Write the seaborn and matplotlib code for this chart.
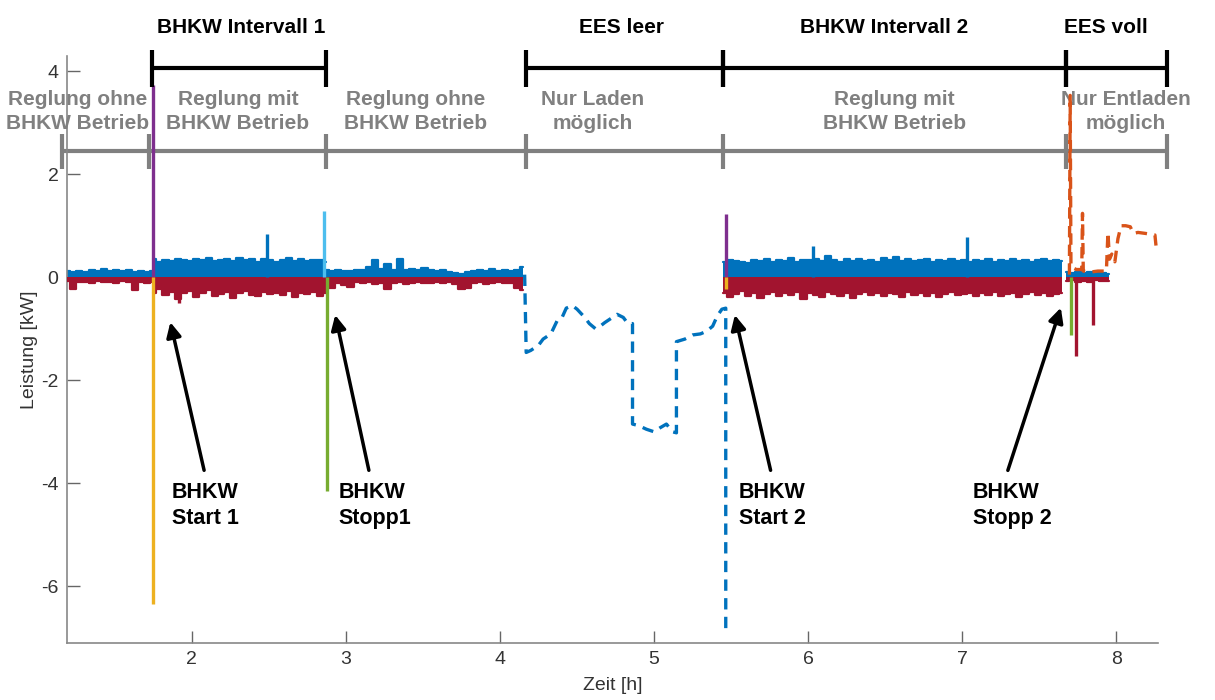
import numpy as np
import pandas as pd
import matplotlib
matplotlib.use("Agg")
import matplotlib.pyplot as plt
import seaborn as sns

# Messabschnitte mit Rauschsignal: Startzeit [h], Schrittweite 0.04 h
seg_start = [1.19, 1.75, 2.87, 5.45, 7.67]
seg_step = 0.04

# obere Huellkurve (blau) je Abschnitt [kW]
blue_a = [0.12, 0.10, 0.13, 0.11, 0.14, 0.12, 0.16, 0.13, 0.15, 0.12, 0.14, 0.11, 0.12, 0.10, 0.13]
blue_b = [0.36, 0.30, 0.34, 0.32, 0.36, 0.33, 0.31, 0.35, 0.33, 0.37, 0.32, 0.34, 0.36, 0.31, 0.38,
          0.33, 0.35, 0.30, 0.36, 0.33, 0.29, 0.34, 0.37, 0.32, 0.35, 0.31, 0.34, 0.33, 0.30]
blue_c = [0.15, 0.12, 0.14, 0.13, 0.12, 0.15, 0.14, 0.20, 0.33, 0.16, 0.25, 0.15, 0.35, 0.14, 0.16,
          0.15, 0.18, 0.14, 0.13, 0.15, 0.11, 0.08, 0.07, 0.10, 0.12, 0.14, 0.13, 0.16, 0.12, 0.14,
          0.13, 0.15, 0.20]
blue_d = [0.30, 0.34, 0.32, 0.30, 0.28, 0.33, 0.31, 0.35, 0.30, 0.33, 0.32, 0.38, 0.30, 0.34, 0.33,
          0.36, 0.31, 0.42, 0.33, 0.30, 0.36, 0.32, 0.35, 0.31, 0.34, 0.30, 0.37, 0.33, 0.40, 0.32,
          0.35, 0.31, 0.33, 0.36, 0.30, 0.34, 0.32, 0.35, 0.31, 0.33, 0.30, 0.34, 0.32, 0.36, 0.30,
          0.33, 0.31, 0.35, 0.32, 0.34, 0.30, 0.33, 0.36, 0.31, 0.34, 0.32]
blue_e = [0.10, 0.08, 0.11, 0.09, 0.10, 0.08, 0.09, 0.07]

# untere Huellkurve (rot) je Abschnitt [kW]
red_a = [-0.08, -0.22, -0.10, -0.09, -0.12, -0.08, -0.10, -0.09, -0.11, -0.08, -0.10, -0.24, -0.09, -0.12, -0.10]
red_b = [-0.30, -0.22, -0.35, -0.28, -0.42, -0.30, -0.27, -0.38, -0.31, -0.25, -0.36, -0.33, -0.29, -0.40, -0.30,
         -0.26, -0.34, -0.37, -0.28, -0.32, -0.30, -0.35, -0.27, -0.38, -0.30, -0.33, -0.28, -0.36, -0.30]
red_c = [-0.10, -0.20, -0.12, -0.15, -0.18, -0.10, -0.12, -0.10, -0.13, -0.11, -0.22, -0.12, -0.10, -0.13, -0.11,
         -0.10, -0.12, -0.11, -0.10, -0.12, -0.10, -0.13, -0.22, -0.20, -0.12, -0.10, -0.14, -0.11, -0.10, -0.12,
         -0.11, -0.20, -0.25]
red_d = [-0.30, -0.38, -0.32, -0.27, -0.36, -0.30, -0.40, -0.33, -0.29, -0.37, -0.31, -0.35, -0.28, -0.42, -0.30,
         -0.34, -0.38, -0.29, -0.33, -0.36, -0.30, -0.40, -0.32, -0.28, -0.35, -0.31, -0.37, -0.30, -0.33, -0.39,
         -0.29, -0.34, -0.31, -0.36, -0.30, -0.38, -0.32, -0.28, -0.35, -0.33, -0.30, -0.37, -0.31, -0.34, -0.29,
         -0.36, -0.32, -0.30, -0.38, -0.33, -0.29, -0.35, -0.31, -0.37, -0.33, -0.30]
red_e = [-0.08, -0.06, -0.09, -0.07, -0.10, -0.06, -0.08, -0.07]

# Einzelspitzen (Zeit [h], Leistung [kW])
spike_blue_t = [2.49, 6.03, 7.03]
spike_blue_p = [0.83, 0.60, 0.78]
spike_red_t = [1.92, 7.74, 7.85]
spike_red_p = [-0.50, -1.52, -0.93]
spike_purple_t = [1.75, 5.465]
spike_purple_p = [3.73, 1.22]
spike_yellow_t = [1.75, 5.465]
spike_yellow_p = [-6.35, -0.22]
spike_cyan_t = [2.86]
spike_cyan_p = [1.28]
spike_green_t = [2.875, 7.705]
spike_green_p = [-4.14, -1.13]

# EES leer (gestrichelt blau)
ees_t = [4.16, 4.17, 4.20, 4.25, 4.28, 4.33, 4.37, 4.40, 4.43, 4.47, 4.50, 4.55, 4.58, 4.62, 4.65, 4.68,
         4.72, 4.76, 4.80, 4.83, 4.86, 4.86, 4.90, 4.95, 5.00, 5.04, 5.08, 5.12, 5.145, 5.145, 5.20, 5.25,
         5.30, 5.34, 5.38, 5.41, 5.44, 5.465, 5.465]
ees_p = [0.05, -1.46, -1.42, -1.32, -1.20, -1.10, -0.85, -0.80, -0.60, -0.55, -0.62, -0.78, -0.90, -1.00, -0.95, -0.88,
         -0.80, -0.72, -0.78, -0.90, -0.90, -2.85, -2.88, -2.95, -3.00, -2.92, -2.85, -3.00, -3.02, -1.25, -1.20, -1.12,
         -1.10, -1.05, -0.95, -0.75, -0.62, -0.60, -6.90]

# EES voll (gestrichelt orange)
evoll_t = [7.695, 7.700, 7.705, 7.74, 7.775, 7.78, 7.785, 7.83, 7.88, 7.935, 7.945, 7.955, 7.97, 7.99, 8.01,
           8.03, 8.06, 8.09, 8.11, 8.14, 8.19, 8.25, 8.26]
evoll_p = [0.05, 3.53, 0.20, 0.15, 0.15, 1.24, 0.12, 0.10, 0.12, 0.12, 0.87, 0.35, 0.45, 0.30, 0.75,
           1.00, 1.00, 0.98, 0.85, 0.87, 0.85, 0.82, 0.52]

# Kopfzeilen
top_labels = ["BHKW Intervall 1", "EES leer", "BHKW Intervall 2", "EES voll"]
top_x = [2.32, 4.79, 6.49, 7.93]
top_bounds = [(1.74, 2.87), (4.17, 5.45), (5.45, 7.67), (7.67, 8.33)]
mid_labels = ["Reglung ohne\nBHKW Betrieb", "Reglung mit\nBHKW Betrieb", "Reglung ohne\nBHKW Betrieb",
              "Nur Laden\nmöglich", "Reglung mit\nBHKW Betrieb", "Nur Entladen\nmöglich"]
mid_x = [1.26, 2.30, 3.45, 4.60, 6.56, 8.06]
mid_bounds = [1.155, 1.72, 2.87, 4.17, 5.45, 7.67, 8.33]

# Pfeilbeschriftungen: Text, Textposition, Pfeilende, Pfeilspitze
arrow_labels = ["BHKW\nStart 1", "BHKW\nStopp1", "BHKW\nStart 2", "BHKW\nStopp 2"]
arrow_text_x = [1.87, 2.95, 5.55, 7.07]
arrow_tail = [(2.084, -3.80), (3.153, -3.80), (5.76, -3.80), (7.29, -3.80)]
arrow_head = [(1.857, -0.82), (2.927, -0.68), (5.52, -0.68), (7.645, -0.54)]

BLUE = "#0072BD"
RED = "#A2142F"
ORANGE = "#D95319"
YELLOW = "#EDB120"
PURPLE = "#7E2F8E"
GREEN = "#77AC30"
CYAN = "#4DBEEE"
GRAY = "#808080"

sns.set_style("white")
plt.rcParams['font.family'] = ['Liberation Sans', 'DejaVu Sans']
plt.rcParams['axes.unicode_minus'] = False

fig = plt.figure(figsize=(12.15, 7.0), dpi=100)
ax = fig.add_axes([0.0551, 0.0814, 0.898, 0.839])

# Rauschsignale je Abschnitt
blue_segs = [blue_a, blue_b, blue_c, blue_d, blue_e]
red_segs = [red_a, red_b, red_c, red_d, red_e]
for i in range(len(seg_start)):
    t = seg_start[i] + seg_step * np.arange(len(blue_segs[i]))
    df = pd.DataFrame({"t": t, "blau": blue_segs[i], "rot": red_segs[i]})
    ax.fill_between(df["t"], 0, df["blau"], step="mid", color=BLUE, lw=0, zorder=2)
    sns.lineplot(data=df, x="t", y="blau", ax=ax, color=BLUE, lw=1.6,
                 drawstyle="steps-mid", estimator=None, sort=False, zorder=2)
    ax.fill_between(df["t"], 0, df["rot"], step="mid", color=RED, lw=0, zorder=3)
    sns.lineplot(data=df, x="t", y="rot", ax=ax, color=RED, lw=1.6,
                 drawstyle="steps-mid", estimator=None, sort=False, zorder=3)

# gestrichelte Speicherverlaeufe
sns.lineplot(x=ees_t, y=ees_p, ax=ax, color=BLUE, lw=2.4, estimator=None, sort=False, zorder=2)
ax.lines[-1].set_dashes((3.4, 2.2))
sns.lineplot(x=evoll_t, y=evoll_p, ax=ax, color=ORANGE, lw=2.4, estimator=None, sort=False, zorder=4)
ax.lines[-1].set_dashes((3.4, 2.2))

# Einzelspitzen
for ts, ps, c in [(spike_blue_t, spike_blue_p, BLUE), (spike_red_t, spike_red_p, RED),
                  (spike_purple_t, spike_purple_p, PURPLE), (spike_yellow_t, spike_yellow_p, YELLOW),
                  (spike_cyan_t, spike_cyan_p, CYAN), (spike_green_t, spike_green_p, GREEN)]:
    ax.vlines(ts, 0, ps, colors=c, lw=2.4, zorder=5)

# Kopfzeile schwarz
y_top = 4.06
for (x0, x1) in top_bounds:
    ax.plot([x0, x1], [y_top, y_top], color="black", lw=3, clip_on=False, zorder=6)
    ax.vlines([x0, x1], y_top - 0.36, y_top + 0.36, colors="black", lw=3, clip_on=False, zorder=6)
for lab, x in zip(top_labels, top_x):
    ax.text(x, 4.85, lab, ha="center", va="center", fontsize=15, fontweight="bold",
            color="black", clip_on=False)

# Zwischenzeile grau
y_mid = 2.45
ax.plot([mid_bounds[0], mid_bounds[-1]], [y_mid, y_mid], color=GRAY, lw=3, clip_on=False, zorder=1)
ax.vlines(mid_bounds, y_mid - 0.34, y_mid + 0.34, colors=GRAY, lw=3, clip_on=False, zorder=1)
for lab, x in zip(mid_labels, mid_x):
    ax.text(x, 3.22, lab, ha="center", va="center", fontsize=15, fontweight="bold",
            color=GRAY, linespacing=1.3, clip_on=False)

# Pfeile
for lab, tx, tail, head in zip(arrow_labels, arrow_text_x, arrow_tail, arrow_head):
    ax.annotate("", xy=head, xytext=tail,
                arrowprops=dict(arrowstyle="-|>", color="black", lw=2.5, mutation_scale=22))
    ax.text(tx, -4.43, lab, ha="left", va="center", fontsize=15.5, fontweight="bold",
            color="black", linespacing=1.3)

ax.set_xlim(1.19, 8.27)
ax.set_ylim(-7.1, 4.3)
ax.set_xticks([2, 3, 4, 5, 6, 7, 8])
ax.set_yticks([-6, -4, -2, 0, 2, 4])
ax.set_xlabel("Zeit [h]", fontsize=14, color="#333333", labelpad=6)
ax.set_ylabel("Leistung [kW]", fontsize=14, color="#333333", labelpad=2)
ax.tick_params(axis="both", direction="in", length=9, width=1, colors="#666666",
               labelcolor="#333333", labelsize=14, pad=6, bottom=True, left=True)
for side in ["top", "right"]:
    ax.spines[side].set_visible(False)
for side in ["left", "bottom"]:
    ax.spines[side].set_color("#888888")
    ax.spines[side].set_linewidth(1.2)

plt.savefig("out.png", dpi=100)
plt.close()
